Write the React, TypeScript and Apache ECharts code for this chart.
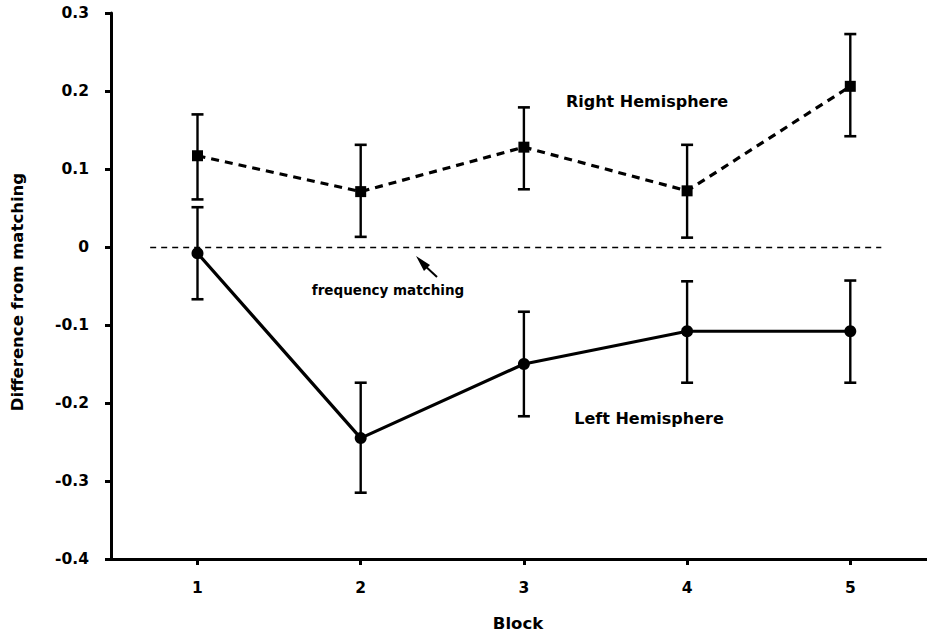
import React, { useEffect, useRef } from "react";
import * as echarts from "echarts";

const blocks = [1, 2, 3, 4, 5];

const rightMean = [0.117, 0.071, 0.128, 0.072, 0.206];
const rightLow = [0.061, 0.013, 0.074, 0.012, 0.142];
const rightHigh = [0.170, 0.131, 0.179, 0.131, 0.273];

const leftMean = [-0.008, -0.245, -0.150, -0.108, -0.108];
const leftLow = [-0.067, -0.315, -0.217, -0.174, -0.174];
const leftHigh = [0.051, -0.174, -0.083, -0.044, -0.043];

const FONT = "'DejaVu Sans', 'Liberation Sans', Arial, sans-serif";

function errRender(params: any, api: any) {
  const x = api.value(0);
  const lo = api.value(1);
  const hi = api.value(2);
  const pHi = api.coord([x, hi]);
  const pLo = api.coord([x, lo]);
  const w = 6;
  const style = { stroke: "#000", lineWidth: 2.4 };
  return {
    type: "group",
    children: [
      { type: "line", shape: { x1: pHi[0], y1: pHi[1], x2: pLo[0], y2: pLo[1] }, style },
      { type: "line", shape: { x1: pHi[0] - w, y1: pHi[1], x2: pHi[0] + w, y2: pHi[1] }, style: { stroke: "#000", lineWidth: 2.6 } },
      { type: "line", shape: { x1: pLo[0] - w, y1: pLo[1], x2: pLo[0] + w, y2: pLo[1] }, style: { stroke: "#000", lineWidth: 2.6 } },
    ],
  };
}

export default function App() {
  const ref = useRef<HTMLDivElement>(null);
  useEffect(() => {
    if (!ref.current) return;
    const chart = echarts.init(ref.current, null, { renderer: "svg" });
    const textStyle = { fontFamily: FONT, fontWeight: "bold" as const, color: "#000" };
    chart.setOption({
      animation: false,
      backgroundColor: "#fff",
      grid: { left: 111, right: 0, top: 13, bottom: 76 },
      xAxis: {
        type: "value",
        min: 0.47,
        max: 5.47,
        axisLine: { show: true, onZero: false, lineStyle: { color: "#000", width: 3 } },
        axisTick: { show: true, customValues: blocks, length: 6, lineStyle: { color: "#000", width: 3 } },
        axisLabel: { customValues: blocks, margin: 21, fontSize: 15.5, ...textStyle, formatter: (v: number) => String(v) },
        splitLine: { show: false },
      },
      yAxis: {
        type: "value",
        min: -0.4,
        max: 0.3,
        interval: 0.1,
        axisLine: { show: true, lineStyle: { color: "#000", width: 3 } },
        axisTick: { show: true, length: 6, lineStyle: { color: "#000", width: 3 } },
        axisLabel: {
          margin: 22,
          fontSize: 15.5,
          ...textStyle,
          formatter: (v: number) => {
            const r = Math.round(v * 10) / 10;
            return r === 0 ? "0" : String(r);
          },
        },
        splitLine: { show: false },
      },
      series: [
        {
          type: "line",
          data: blocks.map((b, i) => [b, rightMean[i]]),
          symbol: "rect",
          symbolSize: 11,
          itemStyle: { color: "#000" },
          lineStyle: { color: "#000", width: 3.2, type: [8, 6] },
          z: 3,
        },
        {
          type: "line",
          data: blocks.map((b, i) => [b, leftMean[i]]),
          symbol: "circle",
          symbolSize: 12,
          itemStyle: { color: "#000" },
          lineStyle: { color: "#000", width: 3.2 },
          z: 3,
          markLine: {
            silent: true,
            symbol: ["none", "none"],
            label: { show: false },
            lineStyle: { color: "#000", width: 1.3, type: [6, 5] },
            data: [[{ coord: [0.71, 0] }, { coord: [5.19, 0] }]],
          },
        },
        {
          type: "custom",
          renderItem: errRender,
          data: blocks.map((b, i) => [b, rightLow[i], rightHigh[i]]),
          z: 2,
        },
        {
          type: "custom",
          renderItem: errRender,
          data: blocks.map((b, i) => [b, leftLow[i], leftHigh[i]]),
          z: 2,
        },
      ],
      graphic: [
        {
          type: "text",
          x: 17,
          y: 292,
          rotation: Math.PI / 2,
          style: { text: "Difference from matching", font: `bold 16.5px ${FONT}`, fill: "#000", align: "center", verticalAlign: "middle" },
        },
        {
          type: "text",
          x: 518,
          y: 623,
          style: { text: "Block", font: `bold 16.5px ${FONT}`, fill: "#000", align: "center", verticalAlign: "middle" },
        },
        {
          type: "text",
          x: 647,
          y: 101,
          style: { text: "Right Hemisphere", font: `bold 16px ${FONT}`, fill: "#000", align: "center", verticalAlign: "middle" },
        },
        {
          type: "text",
          x: 649,
          y: 418,
          style: { text: "Left Hemisphere", font: `bold 16px ${FONT}`, fill: "#000", align: "center", verticalAlign: "middle" },
        },
        {
          type: "text",
          x: 388,
          y: 290,
          style: { text: "frequency matching", font: `bold 13.5px ${FONT}`, fill: "#000", align: "center", verticalAlign: "middle" },
        },
        {
          type: "line",
          shape: { x1: 437, y1: 277, x2: 423, y2: 264 },
          style: { stroke: "#000", lineWidth: 2 },
        },
        {
          type: "polygon",
          shape: { points: [[416, 256], [430, 265], [424, 271]] },
          style: { fill: "#000" },
        },
      ],
    });
    return () => chart.dispose();
  }, []);
  return (
    <div
      ref={ref}
      style={{ position: "absolute", left: 0, top: 0, width: 927, height: 635 }}
    />
  );
}
